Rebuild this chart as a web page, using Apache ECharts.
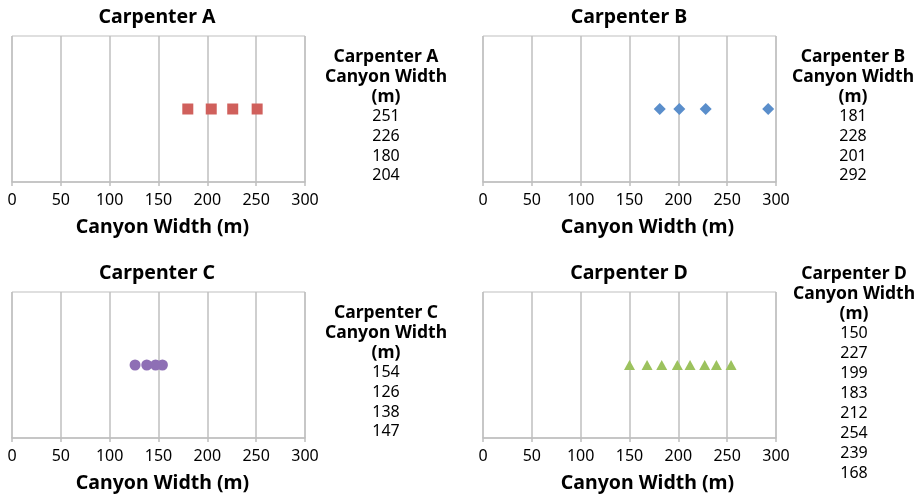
<!DOCTYPE html>
<html>
<head>
<meta charset="utf-8">
<script src="https://cdn.jsdelivr.net/npm/echarts@6/dist/echarts.min.js"></script>
<style>
html,body{margin:0;padding:0;background:#fff;}
#chart{width:922px;height:499px;}
</style>
</head>
<body>
<div id="chart"></div>
<script>
// ---- data ----
const panelNames = ['Carpenter A', 'Carpenter B', 'Carpenter C', 'Carpenter D'];
const carpenterA = [251, 226, 180, 204];
const carpenterB = [181, 228, 201, 292];
const carpenterC = [154, 126, 138, 147];
const carpenterD = [150, 227, 199, 183, 212, 254, 239, 168];
const xTicks = [0, 50, 100, 150, 200, 250, 300];
const yLevel = 1;
const axisTitle = 'Canyon Width (m)';
const tableHeader = ['Canyon Width', '(m)'];

const panelData = [carpenterA, carpenterB, carpenterC, carpenterD];

// ---- layout / style ----
const FONT = '"Noto Sans", "Open Sans", sans-serif';
const grids = [
  { left: 12,  top: 36,  width: 293, height: 146 },
  { left: 483, top: 36,  width: 293, height: 146 },
  { left: 12,  top: 292, width: 293, height: 146 },
  { left: 483, top: 292, width: 293, height: 146 }
];
const symbols = ['rect', 'diamond', 'circle', 'triangle'];
const symbolSizes = [11, 12, 11, [11, 10]];
const colors = ['#D0605C', '#5A8ECB', '#8E6FB5', '#9CC25E'];
const titlePos = [[157, 17], [629, 17], [157, 273], [629, 273]];
const tablePos = [[386, 56], [853, 56], [386, 312], [854, 273]];
const tableStep = [19.8, 19.8, 19.8, 19.9];
const namePad = [8, 36, 8, 36];
const gridColor = '#BFBFBF';

const chart = echarts.init(document.getElementById('chart'), null, { renderer: 'canvas' });

const xAxis = grids.map((g, i) => ({
  type: 'value', gridIndex: i, min: xTicks[0], max: xTicks[xTicks.length - 1],
  interval: xTicks[1] - xTicks[0],
  axisLine: { show: true, lineStyle: { color: gridColor, width: 1.5 } },
  axisTick: { show: true, length: 4, lineStyle: { color: gridColor, width: 1.5 } },
  splitLine: { show: true, lineStyle: { color: gridColor, width: 1.5 } },
  axisLabel: { color: '#000', fontFamily: FONT, fontSize: 16, margin: 10 },
  name: axisTitle, nameLocation: 'middle', nameGap: 35,
  nameTextStyle: { color: '#000', fontFamily: FONT, fontSize: 19.5, fontWeight: 'bold', padding: [0, 0, 0, namePad[i]] }
}));
const yAxis = grids.map((g, i) => ({
  type: 'value', gridIndex: i, min: 0, max: 2, show: false
}));
const series = panelData.map((arr, i) => ({
  type: 'scatter', xAxisIndex: i, yAxisIndex: i,
  symbol: symbols[i], symbolSize: symbolSizes[i],
  itemStyle: { color: colors[i], opacity: 1 },
  data: arr.map(v => [v, yLevel]),
  silent: true
}));

const graphic = [];
panelNames.forEach((name, i) => {
  graphic.push({
    type: 'text', x: titlePos[i][0], y: titlePos[i][1],
    style: { text: name, font: 'bold 19.5px ' + FONT, fill: '#000',
      align: 'center', verticalAlign: 'middle', textAlign: 'center', textVerticalAlign: 'middle' }
  });
  const lines = [name].concat(tableHeader);
  const vals = panelData[i].map(String);
  const all = lines.map(t => ({ t, bold: true })).concat(vals.map(t => ({ t, bold: false })));
  all.forEach((ln, k) => {
    graphic.push({
      type: 'text', x: tablePos[i][0], y: tablePos[i][1] + 1 + k * tableStep[i],
      style: { text: ln.t, font: (ln.bold ? 'bold 17.5px ' : '16px ') + FONT, fill: '#000',
        align: 'center', verticalAlign: 'middle', textAlign: 'center', textVerticalAlign: 'middle' }
    });
  });
});

chart.setOption({
  animation: false,
  backgroundColor: '#fff',
  grid: grids.map(g => Object.assign({ show: true, borderColor: gridColor, borderWidth: 1, containLabel: false }, g)),
  xAxis, yAxis, series, graphic
});
</script>
</body>
</html>
